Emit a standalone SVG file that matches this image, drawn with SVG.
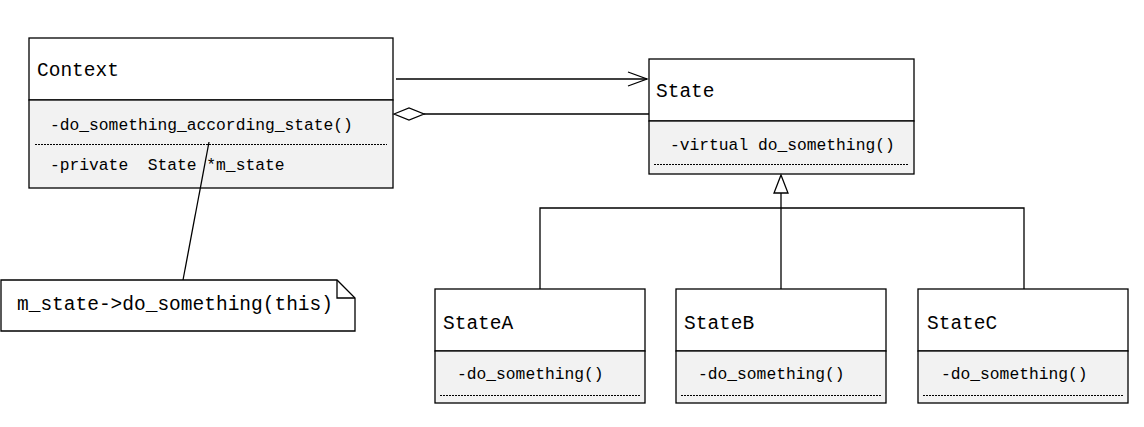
<svg xmlns="http://www.w3.org/2000/svg" width="1144" height="427" viewBox="0 0 1144 427">
<style>
.box{fill:#fff;stroke:#000;stroke-width:1.3}
.ops{fill:#f2f2f2;stroke:#000;stroke-width:1.3}
.dot{stroke:#000;stroke-width:1;stroke-dasharray:2 1;fill:none}
.ln{stroke:#000;stroke-width:1.3;fill:none}
.t{font-family:"Liberation Mono","DejaVu Sans Mono",monospace;font-size:19.5px;fill:#000}
.s{font-family:"Liberation Mono","DejaVu Sans Mono",monospace;font-size:16.3px;fill:#000}
</style>
<rect width="1144" height="427" fill="#fff"/>
<g id="context">
<rect class="box" x="29" y="38" width="364" height="62"/>
<rect class="ops" x="29" y="100" width="364" height="88"/>
<line class="dot" x1="35" y1="144.5" x2="387" y2="144.5"/>
<text class="t" x="37" y="76">Context</text>
<text class="s" x="50" y="130">-do_something_according_state()</text>
<text class="s" x="50" y="170" xml:space="preserve">-private  State *m_state</text>
</g>
<g id="state">
<rect class="box" x="649" y="59" width="265" height="62"/>
<rect class="ops" x="649" y="121" width="265" height="53"/>
<line class="dot" x1="654" y1="164.5" x2="908" y2="164.5"/>
<text class="t" x="656" y="97">State</text>
<text class="s" x="670" y="150">-virtual do_something()</text>
</g>
<g id="note">
<path class="box" d="M1,280 H337 L355,298 V331 H1 Z"/>
<polyline class="ln" points="337,280 337,298 355,298"/>
<text class="t" x="17" y="310">m_state-&gt;do_something(this)</text>
</g>
<g id="stateA">
<rect class="box" x="435" y="289" width="210" height="62"/>
<rect class="ops" x="435" y="351" width="210" height="52"/>
<line class="dot" x1="440" y1="395.5" x2="640" y2="395.5"/>
<text class="t" x="443" y="329">StateA</text>
<text class="s" x="457" y="379">-do_something()</text>
</g>
<g id="stateB">
<rect class="box" x="676" y="289" width="210" height="62"/>
<rect class="ops" x="676" y="351" width="210" height="52"/>
<line class="dot" x1="681" y1="395.5" x2="881" y2="395.5"/>
<text class="t" x="684" y="329">StateB</text>
<text class="s" x="698" y="379">-do_something()</text>
</g>
<g id="stateC">
<rect class="box" x="918" y="289" width="210" height="62"/>
<rect class="ops" x="918" y="351" width="210" height="52"/>
<line class="dot" x1="923" y1="395.5" x2="1123" y2="395.5"/>
<text class="t" x="927" y="329">StateC</text>
<text class="s" x="941" y="379">-do_something()</text>
</g>
<g id="connectors">
<line class="ln" x1="396" y1="79" x2="647" y2="79"/>
<polyline class="ln" points="628,72 647,79 628,86"/>
<line class="ln" x1="424" y1="114" x2="649" y2="114"/>
<polygon class="ln" style="fill:#fff" points="394,114 409,108 424,114 409,120"/>
<line class="ln" x1="209" y1="142" x2="183" y2="280"/>
<line class="ln" x1="781" y1="193" x2="781" y2="289"/>
<polyline class="ln" points="540,289 540,208 1024,208 1024,289"/>
<polygon class="ln" style="fill:#fff" points="781,175 774,193 788,193"/>
</g>
</svg>
